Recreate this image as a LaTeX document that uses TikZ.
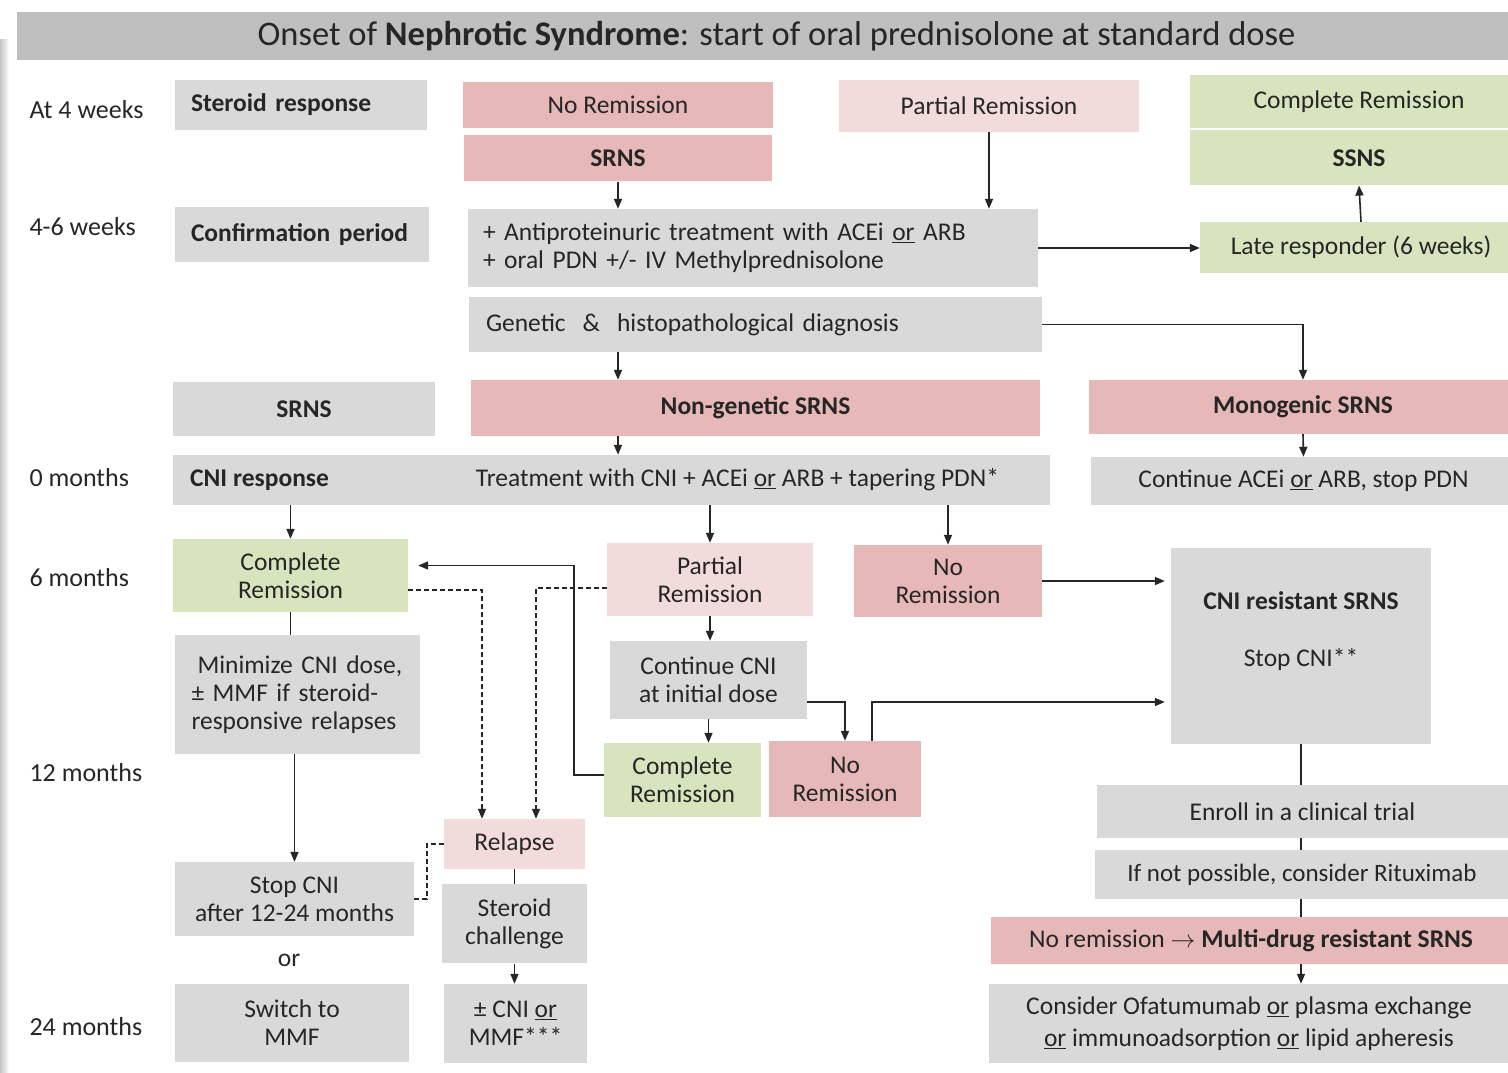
\documentclass[tikz,border=0pt]{standalone}
\usepackage{fontspec}
\setmainfont{Carlito}
\usetikzlibrary{arrows.meta,positioning}
\definecolor{boxgray}{HTML}{D9D9D9}
\definecolor{bargray}{HTML}{BFBFBF}
\definecolor{nrpink}{HTML}{E6B8B7}
\definecolor{prpink}{HTML}{F2DCDB}
\definecolor{crgreen}{HTML}{D7E4BD}
\tikzset{
  box/.style={inner sep=0pt, align=center, text=black!85, font=\fontsize{25.5}{28}\selectfont},
  gbox/.style={box, fill=boxgray},
  rbox/.style={box, fill=nrpink},
  pbox/.style={box, fill=prpink},
  cbox/.style={box, fill=crgreen},
  wh/.style 2 args={minimum width=#1pt, minimum height=#2pt},
  ln/.style={line width=1.6pt, draw=black!85},
  arr/.style={ln, -{Triangle[length=10pt,width=8pt]}},
  dsh/.style={line width=1.5pt, draw=black!85, dash pattern=on 5pt off 3pt},
  darr/.style={dsh, -{Triangle[length=10pt,width=8pt]}},
  lbl/.style={anchor=west, text=black!85, font=\fontsize{26}{30}\selectfont}
}

\begin{document}
\begin{tikzpicture}[x=1pt,y=-1pt]
  \fill[white] (0,0) rectangle (1508,1073);
  \useasboundingbox (0,0) rectangle (1508,1073);
  \shade[left color=gray!45, right color=white] (0,40) rectangle (9,1073);

  \node[fill=bargray, wh={1519}{48}, text=black!85, font=\fontsize{34.5}{40}\selectfont] (title) at (776.5,36)
    {Onset of \textbf{Nephrotic Syndrome}: start of oral prednisolone at standard dose};

  % time line
  \node[lbl] (t4w) at (26,110) {At 4 weeks};
  \node[lbl] (t46w) at (26,227) {4-6 weeks};
  \node[lbl] (t0m) at (26,478) {0 months};
  \node[lbl] (t6m) at (26,578) {6 months};
  \node[lbl] (t12m) at (26,773) {12 months};
  \node[lbl] (t24m) at (26,1027) {24 months};

  % steroid response
  \node[gbox, wh={252}{50}, text width=220pt, align=left] (steroid) at (301,105) {\textbf{Steroid response}};
  \node[rbox, wh={310}{46}] (noremA) at (618,105) {No Remission};
  \node[rbox, wh={308}{46}, below=7pt of noremA] (srnsA) {\textbf{SRNS}};
  \node[pbox, wh={300}{52}] (partA) at (989,106) {Partial Remission};
  \node[cbox, wh={338}{53}] (compA) at (1359,101.5) {Complete Remission};
  \node[cbox, wh={338}{55}, below=2pt of compA] (ssns) {\textbf{SSNS}};

  % confirmation
  \node[gbox, wh={254}{55}, text width=222pt, align=left] (confirm) at (302,234.5) {\textbf{Confirmation period}};
  \node[gbox, wh={570}{78}, text width=540pt, align=left] (antiP) at (753,248)
    {+ Antiproteinuric treatment with ACEi \underline{or} ARB\\+ oral PDN +/- IV Methylprednisolone};
  \node[cbox, wh={322}{51}] (lateR) at (1361,247.5) {Late responder (6 weeks)};
  \node[gbox, wh={573}{55}, text width=539pt, align=left] (genet) at (755.5,324.5)
    {Genetic \ \& \ histopathological diagnosis};
  \node[gbox, wh={262}{54}] (srnsL) at (304,409) {\textbf{SRNS}};
  \node[rbox, wh={569}{56}] (nongen) at (755.5,408) {\textbf{Non-genetic SRNS}};
  \node[rbox, wh={428}{54}] (monog) at (1303,407) {\textbf{Monogenic SRNS}};

  % CNI
  \node[gbox, wh={877}{50}] (bar) at (611.5,480) {};
  \node[box, anchor=west] (cnir) at (190,480) {\textbf{CNI response}};
  \node[box] (treat) at (737.5,480) {Treatment with CNI + ACEi \underline{or} ARB + tapering PDN*};
  \node[gbox, wh={425}{48}] (contA) at (1303.5,481) {Continue ACEi \underline{or} ARB, stop PDN};
  \node[cbox, wh={235}{73}] (compB) at (290.5,575.5) {Complete\\Remission};
  \node[pbox, wh={206}{73}] (partB) at (710,579.5) {Partial\\Remission};
  \node[rbox, wh={188}{72}] (noremB) at (948,581) {No\\Remission};
  \node[gbox, wh={260}{196}] (cnires) at (1301,646) {};
  \node[box] (cnirest) at (1301,601) {\textbf{CNI resistant SRNS}};
  \node[box] (stopA) at (1301,659) {Stop CNI**};
  \node[gbox, wh={245}{119}, text width=212pt, align=left] (minim) at (297.5,694.5)
    {\hspace*{6pt}Minimize CNI dose,\\± MMF if steroid-\\responsive relapses};
  \node[gbox, wh={197}{78}] (contB) at (708.5,680) {Continue CNI\\at initial dose};
  \node[cbox, wh={157}{74}] (compC) at (682.5,780) {Complete\\Remission};
  \node[rbox, wh={152}{76}] (noremC) at (845,779) {No\\Remission};
  \node[gbox, wh={411}{53}] (enroll) at (1302.5,811.5) {Enroll in a clinical trial};

  % relapse and later
  \node[pbox, wh={141}{50}] (relapse) at (514.5,844) {Relapse};
  \node[gbox, wh={239}{74}] (stopB) at (294.5,899) {Stop CNI\\after 12-24 months};
  \node[box] (orT) at (289,960) {or};
  \node[gbox, wh={145}{79}, below=15pt of relapse] (sterch) {Steroid\\challenge};
  \node[gbox, wh={414}{49}, font=\fontsize{25}{28}\selectfont] (ritux) at (1302,874.5) {If not possible, consider Rituximab};
  \node[rbox, wh={520}{47}] (multi) at (1251,940.5) {No remission $\rightarrow$ \textbf{Multi-drug resistant SRNS}};
  \node[gbox, wh={234}{78}] (switch) at (292,1023) {Switch to\\MMF};
  \node[gbox, wh={143}{79}] (pmcni) at (515.5,1023.5) {± CNI \underline{or}\\MMF***};
  \node[gbox, wh={520}{79}] (consid) at (1249,1023.5)
    {Consider Ofatumumab \underline{or} plasma exchange\\[4pt]\underline{or} immunoadsorption \underline{or} lipid apheresis};

  % connectors
  \draw[arr] (srnsA.south) -- (srnsA.south |- antiP.north);
  \draw[arr] (partA.south) -- (partA.south |- antiP.north);
  \draw[arr] (antiP.east) -- (antiP.east -| lateR.west);
  \draw[arr] (lateR.north) -- (ssns.south);
  \draw[arr] (genet.east) -| (monog.north);
  \draw[arr] (srnsA.south |- genet.south) -- (srnsA.south |- nongen.north);
  \draw[arr] (srnsA.south |- nongen.south) -- (srnsA.south |- bar.north);
  \draw[arr] (monog.south) -- (contA.north);
  \draw[arr] (compB.north |- bar.south) -- (compB.north);
  \draw[arr] (partB.north |- bar.south) -- (partB.north);
  \draw[arr] (noremB.north |- bar.south) -- (noremB.north);
  \draw[arr, shorten >=6pt] (noremB.east) -- (noremB.east -| cnires.west);
  \draw[arr, shorten >=10pt] ([yshift=5pt]compC.west) -- ++(-30,0) |- ([yshift=10pt]compB.east);
  \draw[arr] (partB.south) -- (partB.south |- contB.north);
  \draw[arr] (contB.south) -- (contB.south |- compC.north);
  \draw[arr] ([yshift=-22pt]contB.east) -| (noremC.north);
  \draw[arr, shorten >=6pt] ([xshift=27pt]noremC.north) |- ([yshift=-56pt]cnires.west);
  \draw[ln] (compB.south) -- (compB.south |- minim.north);
  \draw[arr] (stopB.north |- minim.south) -- (stopB.north);
  \draw[darr] ([yshift=-14.5pt]compB.east) -| ([xshift=-32.5pt]relapse.north);
  \draw[darr] ([yshift=-8.5pt]partB.west) -| ([xshift=21.5pt]relapse.north);
  \draw[dsh] (relapse.west) -- ++(-17,0) |- (stopB.east);
  \draw[ln] (relapse.south) -- (sterch.north);
  \draw[arr] (sterch.south) -- (sterch.south |- pmcni.north);
  \draw[ln] (cnires.south) -- (cnires.south |- enroll.north);
  \draw[ln] (cnires.south |- enroll.south) -- (cnires.south |- ritux.north);
  \draw[ln] (cnires.south |- ritux.south) -- (cnires.south |- multi.north);
  \draw[arr] (cnires.south |- multi.south) -- (cnires.south |- consid.north);
\end{tikzpicture}
\end{document}
